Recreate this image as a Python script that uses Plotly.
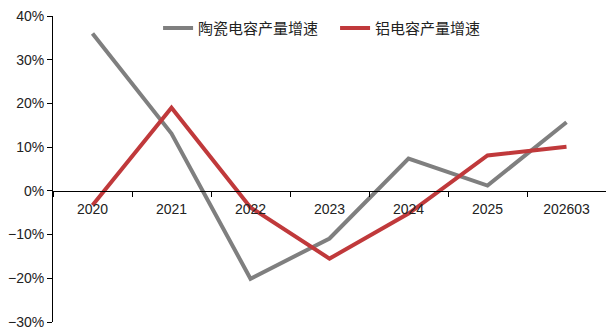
import plotly.graph_objects as go

categories = ["2020", "2021", "2022", "2023", "2024", "2025", "202603"]
ceramic = [36.0, 13.1, -20.1, -10.9, 7.4, 1.2, 15.7]
aluminum = [-3.3, 19.0, -3.8, -15.5, -5.2, 8.1, 10.1]
names = ["陶瓷电容产量增速", "铝电容产量增速"]

font_family = "Liberation Sans, Noto Sans CJK SC, sans-serif"

fig = go.Figure()
fig.add_trace(go.Scatter(x=categories, y=ceramic, mode="lines", name=names[0],
                         line=dict(color="#7f7f7f", width=4)))
fig.add_trace(go.Scatter(x=categories, y=aluminum, mode="lines", name=names[1],
                         line=dict(color="#c0393b", width=4)))

fig.update_layout(
    width=606, height=332,
    margin=dict(l=53, r=0, t=16, b=10),
    paper_bgcolor="white", plot_bgcolor="white",
    font=dict(family=font_family, size=13, color="#222"),
    showlegend=True,
    legend=dict(orientation="h", x=0.19, y=0.96, xanchor="left", yanchor="middle",
                bgcolor="rgba(0,0,0,0)", font=dict(size=15, family="Noto Sans CJK SC"),
                itemwidth=30, tracegroupgap=0, entrywidth=132, entrywidthmode="pixels"),
    xaxis=dict(type="category", anchor="free", position=30/70,
               showline=True, linecolor="black", linewidth=1,
               ticks="outside", tickson="boundaries", ticklen=5, tickcolor="black",
               showgrid=False, zeroline=False, range=[-0.5, 6.5],
               tickfont=dict(size=14), ticklabelstandoff=5),
    yaxis=dict(range=[-30, 40], dtick=10, ticksuffix="%",
               showline=True, linecolor="black", linewidth=1,
               ticks="outside", ticklen=5, tickcolor="black",
               showgrid=False, zeroline=False, tickfont=dict(size=14)),
)

fig.write_html("out.html")
